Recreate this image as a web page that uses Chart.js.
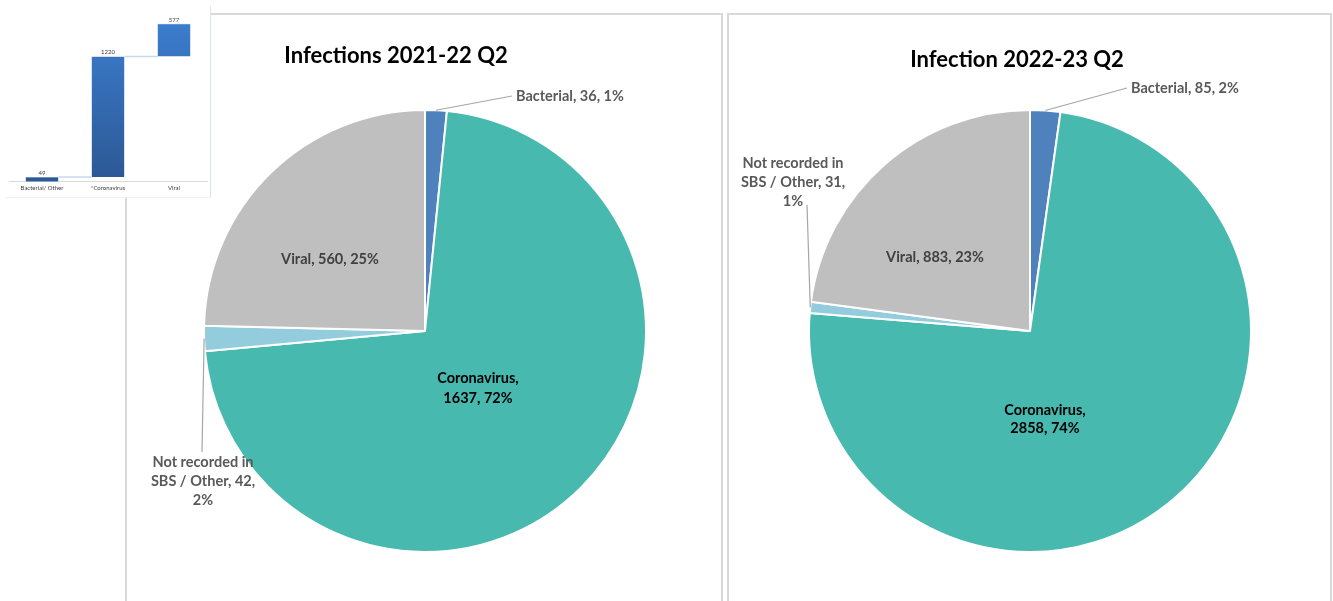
<!DOCTYPE html>
<html><head><meta charset="utf-8">
<script src="https://cdn.jsdelivr.net/npm/chart.js@4.4.1/dist/chart.umd.min.js"></script>
<style>
html,body{margin:0;padding:0;background:#fff;width:1333px;height:601px;overflow:hidden;}
.panel{position:absolute;border:2px solid #d9d9d9;box-sizing:border-box;background:#fff}
#p1{left:125px;top:13px;width:598px;height:640px}
#p2{left:727px;top:13px;width:605px;height:640px}
canvas{position:absolute}
#thumb{position:absolute;left:6px;top:6px;width:205px;height:192px;background:#fff;border-right:1px solid #dce6f2;border-bottom:1px solid #eef2f8;box-sizing:border-box}
</style></head>
<body>
<div class="panel" id="p1"></div>
<div class="panel" id="p2"></div>
<canvas id="c1" width="593" height="585" style="left:128px;top:16px"></canvas>
<canvas id="c2" width="599" height="585" style="left:730px;top:16px"></canvas>
<div id="thumb"><canvas id="c0" width="204" height="191" style="left:0;top:0"></canvas></div>
<script>
// ---- data ----
const categories = ['Bacterial', 'Coronavirus', 'Not recorded in SBS / Other', 'Viral'];
const values2122 = [36, 1637, 42, 560];
const pct2122 = [1, 72, 2, 25];
const values2223 = [85, 2858, 31, 883];
const pct2223 = [2, 74, 1, 23];
const title2122 = 'Infections 2021-22 Q2';
const title2223 = 'Infection 2022-23 Q2';

const wfCategories = ['Bacterial/ Other', '*Coronavirus', 'Viral'];
const wfStart = [0, 49, 1269];
const wfEnd = [49, 1269, 1600];
const wfLabels = ['49', '1220', '577'];

// ---- styles ----
const sliceColors = ['#4F81BD', '#47B9AF', '#93CDDD', '#BFBFBF'];
const FONT = 'Lato, "Open Sans", sans-serif';

function wrap(ctx, text, maxW){
  const words = text.split(' ');
  const lines = []; let cur = '';
  for (const w of words){
    const t = cur ? cur + ' ' + w : w;
    if (cur && ctx.measureText(t).width > maxW){ lines.push(cur); cur = w; }
    else cur = t;
  }
  if (cur) lines.push(cur);
  return lines;
}

const pieLabels = {
  id: 'pieLabels',
  afterDatasetsDraw(chart, args, opts){
    const ctx = chart.ctx;
    const meta = chart.getDatasetMeta(0);
    const ds = chart.data.datasets[0];
    ctx.save();
    // title
    ctx.font = 'bold ' + opts.titleSize + 'px ' + FONT;
    ctx.fillStyle = '#000';
    ctx.textAlign = 'center'; ctx.textBaseline = 'middle';
    ctx.fillText(opts.title, opts.titleX, opts.titleY);
    meta.data.forEach((arc, i) => {
      const L = opts.layout[i];
      const p = arc.getProps(['x','y','startAngle','endAngle','outerRadius'], true);
      const mid = (p.startAngle + p.endAngle) / 2;
      ctx.font = 'bold 14.5px ' + FONT;
      const text = chart.data.labels[i] + ', ' + ds.data[i] + ', ' + opts.pct[i] + '%';
      const lines = wrap(ctx, text, L.maxW || 400);
      if (L.line){
        ctx.strokeStyle = '#a6a6a6'; ctx.lineWidth = 1.2;
        ctx.beginPath();
        ctx.moveTo(p.x + Math.cos(mid) * p.outerRadius, p.y + Math.sin(mid) * p.outerRadius);
        ctx.lineTo(p.x + L.line[0], p.y + L.line[1]);
        ctx.stroke();
      }
      ctx.fillStyle = L.color;
      ctx.textAlign = L.align || 'center';
      ctx.textBaseline = 'middle';
      lines.forEach((ln, k) => ctx.fillText(ln, p.x + L.dx, p.y + L.dy + k * (L.lh || 19)));
    });
    ctx.restore();
  }
};

function makePie(id, values, pct, title, pad, titlePos, layout){
  return new Chart(document.getElementById(id), {
    type: 'pie',
    data: { labels: categories, datasets: [{ data: values, backgroundColor: sliceColors, borderColor: '#ffffff', borderWidth: 2 }] },
    options: {
      responsive: false, animation: false,
      layout: { padding: pad },
      plugins: {
        legend: { display: false }, tooltip: { enabled: false },
        pieLabels: { title: title, titleSize: 22, titleX: titlePos[0], titleY: titlePos[1], pct: pct, layout: layout }
      }
    },
    plugins: [pieLabels]
  });
}

makePie('c1', values2122, pct2122, title2122,
  { left: 75, right: 74, top: 93, bottom: 48 }, [268, 40],
  [
    { dx: 91, dy: -235, align: 'left', line: [87, -235], color: '#595959' },
    { dx: 53, dy: 47, maxW: 92, lh: 20, color: '#000000' },
    { dx: -222, dy: 131, maxW: 114, lh: 19, line: [-223, 121], color: '#595959' },
    { dx: -95, dy: -72, color: '#404040' }
  ]);

makePie('c2', values2223, pct2223, title2223,
  { left: 78, right: 77, top: 93, bottom: 48 }, [287, 44],
  [
    { dx: 101, dy: -243, align: 'left', line: [97, -243], color: '#595959' },
    { dx: 15, dy: 79, maxW: 92, lh: 18, color: '#000000' },
    { dx: -237, dy: -168, maxW: 114, lh: 19, line: [-223, -126], color: '#595959' },
    { dx: -95, dy: -74, color: '#404040' }
  ]);

// ---- thumbnail waterfall ----
const wfPlugin = {
  id: 'wf',
  afterDatasetsDraw(chart){
    const ctx = chart.ctx;
    const meta = chart.getDatasetMeta(0);
    const y = chart.scales.y;
    ctx.save();
    ctx.strokeStyle = '#c6d9f1'; ctx.lineWidth = 1.5;
    for (let i = 0; i < meta.data.length - 1; i++){
      const a = meta.data[i], b = meta.data[i + 1];
      const yy = y.getPixelForValue(wfEnd[i]);
      ctx.beginPath(); ctx.moveTo(a.x + a.width / 2, yy); ctx.lineTo(b.x - b.width / 2, yy); ctx.stroke();
    }
    ctx.fillStyle = '#404040'; ctx.font = '6px ' + FONT; ctx.textAlign = 'center'; ctx.textBaseline = 'bottom';
    meta.data.forEach((bar, i) => ctx.fillText(wfLabels[i], bar.x, y.getPixelForValue(wfEnd[i]) - 1));
    ctx.restore();
  }
};

new Chart(document.getElementById('c0'), {
  type: 'bar',
  data: { labels: wfCategories, datasets: [{
    data: wfStart.map((s, i) => [s, wfEnd[i]]),
    backgroundColor: (c) => {
      const area = c.chart.chartArea;
      if (!area) return '#3a7bc8';
      const g = c.chart.ctx.createLinearGradient(0, area.top, 0, area.bottom);
      g.addColorStop(0, '#3d80d2'); g.addColorStop(1, '#2c5894');
      return g;
    },
    borderColor: '#5a8fd0', borderWidth: 0.5,
    categoryPercentage: 1, barPercentage: 0.5
  }] },
  options: {
    responsive: false, animation: false,
    layout: { padding: { left: 3, right: 3, top: 3, bottom: 2 } },
    plugins: { legend: { display: false }, tooltip: { enabled: false } },
    scales: {
      x: { grid: { display: false, drawTicks: false }, border: { color: '#d9d9d9' },
           ticks: { font: { size: 6, family: FONT }, color: '#404040', padding: 3, maxRotation: 0 } },
      y: { display: false, min: 0, max: 1750 }
    }
  },
  plugins: [wfPlugin]
});
</script>
</body></html>
